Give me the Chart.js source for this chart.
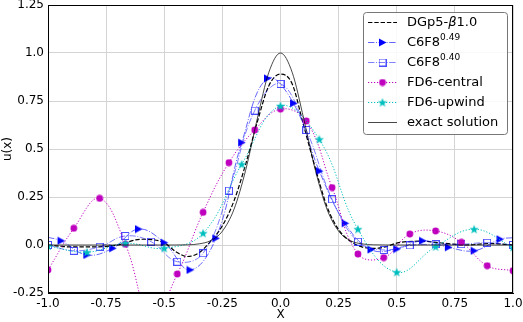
<!DOCTYPE html>
<html>
<head>
<meta charset="utf-8">
<script src="https://cdn.jsdelivr.net/npm/chart.js@4.4.1/dist/chart.umd.min.js"></script>
<style>html,body{margin:0;padding:0;background:#fff}</style>
</head>
<body>
<canvas id="c" width="523" height="322"></canvas>
<script>
/* ===== DATA ===== */
const xTickVals   = [-1, -0.75, -0.5, -0.25, 0, 0.25, 0.5, 0.75, 1];
const xTickLabels = ['-1.0', '-0.75', '-0.5', '-0.25', '0.0', '0.25', '0.5', '0.75', '1.0'];
const yTickVals   = [-0.25, 0, 0.25, 0.5, 0.75, 1, 1.25];
const yTickLabels = ['-0.25', '0.0', '0.25', '0.5', '0.75', '1.0', '1.25'];

// exact solution
const xExact = [-1, -0.5, -0.4, -0.35, -0.3, -0.25, -0.2, -0.15, -0.1, -0.05, 0, 0.05, 0.1, 0.15, 0.2, 0.25, 0.3, 0.35, 0.4, 0.5, 1];
const yExact = [0, 0, 0.001, 0.006, 0.023, 0.072, 0.186, 0.389, 0.657, 0.90, 1.0, 0.90, 0.657, 0.389, 0.186, 0.072, 0.023, 0.006, 0.001, 0, 0];

// DGp5-beta1.0
const xDG = [-1, -0.9, -0.8, -0.7, -0.6, -0.5, -0.45, -0.4, -0.35, -0.3, -0.25, -0.2, -0.15, -0.1, -0.05, 0, 0.05, 0.1, 0.15, 0.2, 0.25, 0.3, 0.35, 0.4, 0.45, 0.5, 0.6, 0.7, 0.8, 0.9, 1];
const yDG = [0, -0.01, -0.01, 0, 0.03, 0.012, -0.035, -0.06, -0.04, 0.02, 0.10, 0.23, 0.42, 0.64, 0.83, 0.89, 0.84, 0.62, 0.40, 0.20, 0.08, 0.02, -0.01, -0.018, -0.01, 0.01, 0.02, 0.01, 0, 0.008, 0];

// C6F8^0.49 (triangles; first and last entries are line ends without marker)
const xTri = [-1, -0.944, -0.833, -0.722, -0.611, -0.5, -0.389, -0.278, -0.167, -0.056, 0.056, 0.167, 0.278, 0.389, 0.5, 0.611, 0.722, 0.833, 0.944, 1];
const yTri = [0.04, 0.022, -0.052, -0.017, 0.083, 0.012, -0.13, 0.035, 0.533, 0.868, 0.738, 0.385, 0.113, -0.024, -0.021, 0.022, -0.012, -0.03, 0.03, 0.038];

// shared grid of the 1/9-spaced series
const xNine = [-1, -0.889, -0.778, -0.667, -0.556, -0.444, -0.333, -0.222, -0.111, 0, 0.111, 0.222, 0.333, 0.444, 0.556, 0.667, 0.778, 0.889, 1];
// C6F8^0.40 (squares)
const ySq   = [0, -0.03, -0.009, 0.047, 0.017, -0.087, -0.043, 0.283, 0.70, 0.839, 0.599, 0.238, 0.017, -0.026, -0.002, 0.004, 0.004, 0.012, 0];
// FD6-central (circles)
const yCirc = [-0.13, 0.087, 0.243, 0.004, -0.38, -0.151, 0.17, 0.429, 0.599, 0.708, 0.646, 0.299, -0.047, -0.066, 0.057, 0.073, 0.014, -0.108, -0.134];

// FD6-upwind (stars)
const xSix  = [-1, -0.833, -0.667, -0.5, -0.333, -0.167, 0, 0.167, 0.333, 0.5, 0.667, 0.833, 1];
const yStar = [-0.005, -0.038, 0.009, -0.017, 0.061, 0.42, 0.724, 0.55, 0.082, -0.142, -0.009, 0.082, -0.012];

const FONT = "'DejaVu Sans', sans-serif";
const pts = (xs, ys) => xs.map((x, i) => ({ x: x, y: ys[i] }));

/* ===== MARKERS ===== */
function mk(w, h, draw) {
  const c = document.createElement('canvas'); c.width = w; c.height = h;
  draw(c.getContext('2d')); return c;
}
const triMark = mk(9, 9, g => { g.fillStyle = '#0000ff'; g.beginPath(); g.moveTo(1, 0.5); g.lineTo(8.5, 4.5); g.lineTo(1, 8.5); g.closePath(); g.fill(); });
const sqMark = mk(8, 8, g => { g.strokeStyle = 'rgba(30,30,255,0.8)'; g.lineWidth = 1; g.strokeRect(0.5, 0.5, 7, 7); });
const circMark = mk(8, 8, g => { g.fillStyle = '#bf00bf'; g.beginPath(); g.arc(4, 4, 3.4, 0, Math.PI * 2); g.fill(); });
const starMark = mk(10, 10, g => {
  g.fillStyle = '#00bfbf'; g.beginPath();
  for (let i = 0; i < 10; i++) {
    const r = i % 2 ? 2 : 4.8, a = -Math.PI / 2 + i * Math.PI / 5;
    g.lineTo(5 + r * Math.cos(a), 5.3 + r * Math.sin(a));
  }
  g.closePath(); g.fill();
});

const DASH = [4.4, 1.9], DASHDOT = [6.4, 1.6, 1, 1.6], DOT = [1.2, 1.8];

/* ===== PLUGINS ===== */
const frame = {
  id: 'frame',
  afterDatasetsDraw(chart) {
    const { ctx, chartArea: a } = chart;
    ctx.save(); ctx.strokeStyle = '#000'; ctx.lineWidth = 1;
    ctx.strokeRect(Math.round(a.left) + 0.5, Math.round(a.top) + 0.5, Math.round(a.right - a.left) - 1, Math.round(a.bottom - a.top) - 1);
    ctx.restore();
  }
};

const legendItems = [
  { parts: [['DGp5-', ''], ['β', 'italic'], ['1.0', '']], color: '#000', dash: DASH, lw: 1.2 },
  { parts: [['C6F8', ''], ['0.49', 'sup']], color: 'rgba(0,0,255,0.6)', dash: DASHDOT, lw: 1, mark: triMark },
  { parts: [['C6F8', ''], ['0.40', 'sup']], color: 'rgba(0,0,255,0.5)', dash: DASHDOT, lw: 1, mark: sqMark },
  { parts: [['FD6-central', '']], color: '#bf00bf', dash: DOT, lw: 1, mark: circMark },
  { parts: [['FD6-upwind', '']], color: '#00bfbf', dash: DOT, lw: 1, mark: starMark },
  { parts: [['exact solution', '']], color: 'rgba(0,0,0,0.8)', dash: [], lw: 0.9 },
];

const mplLegend = {
  id: 'mplLegend',
  afterDraw(chart) {
    const { ctx, chartArea: a } = chart;
    const w = 144, h = 122, x0 = a.right - 6 - w, y0 = a.top + 7;
    ctx.save();
    ctx.beginPath();
    ctx.roundRect(x0 + 0.5, y0 + 0.5, w, h, 3);
    ctx.fillStyle = 'rgba(255,255,255,0.85)'; ctx.fill();
    ctx.strokeStyle = '#777'; ctx.lineWidth = 1; ctx.stroke();
    legendItems.forEach((it, i) => {
      const y = y0 + 10.5 + i * 20;
      ctx.beginPath(); ctx.setLineDash(it.dash); ctx.strokeStyle = it.color; ctx.lineWidth = it.lw;
      ctx.moveTo(x0 + 5, y); ctx.lineTo(x0 + 34, y); ctx.stroke(); ctx.setLineDash([]);
      if (it.mark) ctx.drawImage(it.mark, x0 + 19.5 - it.mark.width / 2, y - it.mark.height / 2);
      let tx = x0 + 44;
      ctx.fillStyle = '#000'; ctx.textBaseline = 'middle'; ctx.textAlign = 'left';
      it.parts.forEach(([s, k]) => {
        if (k === 'sup') { ctx.font = '9px ' + FONT; ctx.fillText(s, tx, y - 5); }
        else { ctx.font = (k === 'italic' ? 'italic ' : '') + '13px ' + FONT; ctx.fillText(s, tx, y); }
        tx += ctx.measureText(s).width;
      });
    });
    ctx.restore();
  }
};

/* ===== CHART ===== */
const line = (label, data, color, dash, lw, extra) => Object.assign({
  label, data, borderColor: color, backgroundColor: color, borderWidth: lw, borderDash: dash,
  showLine: true, fill: false, pointRadius: 0, tension: 0.4
}, extra || {});

new Chart(document.getElementById('c'), {
  type: 'scatter',
  data: {
    datasets: [
      line('DGp5-β1.0', pts(xDG, yDG), '#000', DASH, 1.2, { order: 6, cubicInterpolationMode: 'monotone' }),
      line('C6F8 0.49', pts(xTri, yTri), 'rgba(0,0,255,0.6)', DASHDOT, 1, {
        order: 5, pointStyle: triMark, pointRadius: xTri.map((v, i) => (i === 0 || i === xTri.length - 1) ? 0 : 4)
      }),
      line('C6F8 0.40', pts(xNine, ySq), 'rgba(0,0,255,0.5)', DASHDOT, 1, { order: 4, pointStyle: sqMark, pointRadius: 4 }),
      line('FD6-central', pts(xNine, yCirc), '#bf00bf', DOT, 1, { order: 3, pointStyle: circMark, pointRadius: 4 }),
      line('FD6-upwind', pts(xSix, yStar), '#00bfbf', DOT, 1, { order: 2, pointStyle: starMark, pointRadius: 4 }),
      line('exact solution', pts(xExact, yExact), 'rgba(0,0,0,0.8)', [], 0.9, { order: 1, cubicInterpolationMode: 'monotone' }),
    ]
  },
  options: {
    responsive: false, animation: false, events: [],
    layout: { padding: { left: 0, right: 10, top: 5, bottom: 0 } },
    plugins: { legend: { display: false }, tooltip: { enabled: false } },
    scales: {
      x: {
        type: 'linear', min: -1, max: 1,
        afterBuildTicks: s => { s.ticks = xTickVals.map(v => ({ value: v })); },
        afterFit: s => { s.height = 29; s.paddingLeft = 0; s.paddingRight = 0; },
        grid: { color: '#d4d4d4', lineWidth: 1, drawTicks: false },
        border: { display: true, color: '#000' },
        ticks: { padding: 4, maxRotation: 0, autoSkip: false, color: '#000', font: { family: FONT, size: 12 },
          callback: (v, i) => xTickLabels[i] },
        title: { display: true, text: 'X', color: '#000', font: { family: FONT, size: 12 }, padding: { top: 0, bottom: 0 } }
      },
      y: {
        type: 'linear', min: -0.25, max: 1.25,
        afterBuildTicks: s => { s.ticks = yTickVals.map(v => ({ value: v })); },
        afterFit: s => { s.width = 48; s.paddingTop = 0; s.paddingBottom = 0; },
        grid: { color: '#d4d4d4', lineWidth: 1, drawTicks: false },
        border: { display: true, color: '#000' },
        ticks: { padding: 4, autoSkip: false, color: '#000', font: { family: FONT, size: 12 },
          callback: (v, i) => yTickLabels[i] },
        title: { display: true, text: 'u(x)', color: '#000', font: { family: FONT, size: 12 }, padding: { top: 1, bottom: 0 } }
      }
    }
  },
  plugins: [frame, mplLegend]
});
</script>
</body>
</html>
